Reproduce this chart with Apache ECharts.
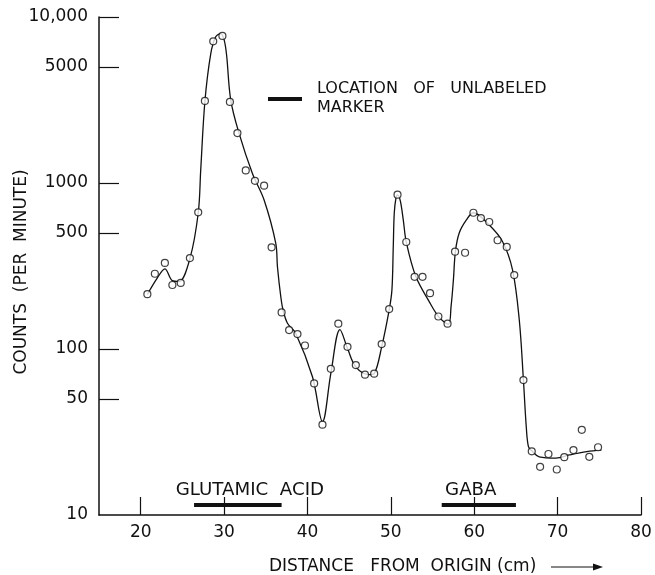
<!DOCTYPE html>
<html>
<head>
<meta charset="utf-8">
<script src="https://cdn.jsdelivr.net/npm/echarts@6/dist/echarts.min.js"></script>
<style>
  html, body { margin: 0; padding: 0; background: #fff; }
  #main { width: 655px; height: 575px; }
</style>
</head>
<body>
<div id="main"></div>
<script>
// measured points (distance cm, counts per minute)
var distance = [20.8, 21.7, 22.9, 23.8, 24.8, 25.9, 26.9, 27.7, 28.7, 29.8, 30.7, 31.6, 32.6, 33.7, 34.8,
     35.7, 36.9, 37.8, 38.8, 39.7, 40.8, 41.8, 42.8, 43.7, 44.8, 45.8, 46.9, 48.0, 48.9, 49.8,
     50.8, 51.85, 52.85, 53.8, 54.7, 55.7, 56.8, 57.7, 58.9, 59.9, 60.8, 61.8, 62.8, 63.9, 64.8,
     65.9, 66.9, 67.9, 68.9, 69.9, 70.8, 71.9, 72.9, 73.8, 74.85];
var counts = [214, 284, 330, 243, 250, 353, 666, 3120, 7140, 7690, 3080, 2000, 1190, 1030, 963,
     410, 166, 130, 123, 105, 62, 35, 76, 142, 103, 80, 70, 71, 107, 174,
     850, 441, 272, 272, 217, 157, 142, 386, 380, 662, 615, 582, 452, 412, 279,
     65, 24.2, 19.5, 23.3, 18.8, 22.3, 24.6, 32.6, 22.4, 25.6];

// hand drawn curve
var curveX = [20.8, 22.0, 22.9, 23.8, 24.6, 25.9, 26.9, 27.2, 27.7, 28.4, 29.0, 29.6, 30.0, 30.3, 30.8,
     31.8, 33.4, 34.8, 36.2, 36.4, 36.8, 37.07, 37.6, 38.6, 40.6, 41.8, 42.8, 43.9, 44.8, 45.8,
     47.4, 48.0, 48.9, 49.8, 50.13, 50.29, 50.41, 50.61, 50.8, 51.13, 51.49, 51.85, 53.0, 54.6, 55.8,
     56.9, 57.22, 57.5, 57.74, 58.2, 59.06, 59.9, 61.8, 63.4, 64.6, 65.4, 65.9, 66.24, 66.5, 66.9,
     67.8, 69.8, 71.4, 73.5, 75.25];
var curveY = [213, 268, 304, 258, 255, 350, 660, 1200, 3100, 6000, 7600, 7950, 7300, 5900, 3160,
     1990, 1140, 790, 433, 313, 207, 172, 143, 124, 68, 36.5, 71, 131, 101, 78,
     70, 71, 103, 172, 227, 413, 659, 812, 847, 782, 599, 441, 273, 193, 155,
     141, 180, 260, 386, 500, 599, 662, 558, 443, 299, 150, 65, 34, 25.8, 24.4,
     22.4, 22, 23, 24.1, 24.6];

var xTicks = [20, 30, 40, 50, 60, 70, 80];
var yTicks = [50, 100, 500, 1000, 5000, 10000];
var yLabels = [10, 50, 100, 500, 1000, 5000, 10000];

// marker bars under the axis
var markerNames = ['GLUTAMIC  ACID', 'GABA'];
var markerFrom = [26.4, 56.1];
var markerTo = [36.9, 65.0];
var markerLabelX = [24.2, 56.5];

var font = 'DejaVu Sans';
var chart = echarts.init(document.getElementById('main'));

var pts = [];
for (var i = 0; i < distance.length; i++) {
     pts.push([distance[i], counts[i]]);
}
var curve = [];
for (var j = 0; j < curveX.length; j++) {
     curve.push([curveX[j], curveY[j]]);
}
var bars = [];
for (var k = 0; k < markerNames.length; k++) {
     bars.push([markerFrom[k], markerTo[k], markerLabelX[k], markerNames[k]]);
}

chart.setOption({
     animation: false,
     grid: { left: 99, right: 14, top: 17, bottom: 60 },
     xAxis: {
          type: 'value',
          min: 15,
          max: 80,
          axisLine: { lineStyle: { color: '#111', width: 1.5 } },
          axisTick: { inside: true, length: 18, customValues: xTicks, lineStyle: { color: '#111', width: 1.2 } },
          axisLabel: { customValues: xTicks, margin: 9, fontFamily: font, fontSize: 17, color: '#111' },
          splitLine: { show: false }
     },
     yAxis: {
          type: 'log',
          logBase: 10,
          min: 10,
          max: 10000,
          axisLine: { lineStyle: { color: '#111', width: 1.5 } },
          axisTick: { inside: true, length: 20, customValues: yTicks, lineStyle: { color: '#111', width: 1.2 } },
          axisLabel: {
               customValues: yLabels,
               margin: 11,
               fontFamily: font,
               fontSize: 17,
               color: '#111',
               formatter: function (v) {
                    return v >= 10000 ? '10,000' : String(v);
               }
          },
          splitLine: { show: false }
     },
     graphic: [
          {
               type: 'text', x: 22, y: 272, rotation: Math.PI / 2,
               style: { text: 'COUNTS  (PER  MINUTE)', fontFamily: font, fontSize: 17, fill: '#111', align: 'center', verticalAlign: 'middle' }
          },
          {
               type: 'text', x: 269, y: 567,
               style: { text: 'DISTANCE   FROM  ORIGIN (cm)', fontFamily: font, fontSize: 17, fill: '#111', align: 'left', verticalAlign: 'middle' }
          },
          {
               type: 'line', shape: { x1: 551, y1: 567, x2: 596, y2: 567 },
               style: { stroke: '#111', lineWidth: 1.2 }
          },
          {
               type: 'polygon', shape: { points: [[603, 567], [593, 563.5], [593, 570.5]] },
               style: { fill: '#111' }
          },
          {
               type: 'line', shape: { x1: 268, y1: 99, x2: 302, y2: 99 },
               style: { stroke: '#111', lineWidth: 4 }
          },
          {
               type: 'text', x: 317, y: 89,
               style: { text: 'LOCATION   OF   UNLABELED', fontFamily: font, fontSize: 16, fill: '#111', align: 'left', verticalAlign: 'middle' }
          },
          {
               type: 'text', x: 317, y: 108,
               style: { text: 'MARKER', fontFamily: font, fontSize: 16, fill: '#111', align: 'left', verticalAlign: 'middle' }
          }
     ],
     series: [
          {
               type: 'line',
               data: curve,
               smooth: 0.35,
               showSymbol: false,
               lineStyle: { color: '#111', width: 1.3 },
               z: 2
          },
          {
               type: 'scatter',
               data: pts,
               symbol: 'circle',
               symbolSize: 7,
               itemStyle: { color: '#fff', borderColor: '#111', borderWidth: 1.2 },
               z: 3
          },
          {
               type: 'custom',
               data: bars,
               renderItem: function (params, api) {
                    var p0 = api.coord([api.value(0), 10]);
                    var p1 = api.coord([api.value(1), 10]);
                    var pl = api.coord([api.value(2), 10]);
                    return {
                         type: 'group',
                         children: [
                              {
                                   type: 'rect',
                                   shape: { x: p0[0], y: p0[1] - 12, width: p1[0] - p0[0], height: 4 },
                                   style: { fill: '#111' }
                              },
                              {
                                   type: 'text',
                                   x: pl[0], y: p0[1] - 24, scaleX: 1.07,
                                   style: { text: bars[params.dataIndex][3], fontFamily: font, fontSize: 17, fill: '#111', align: 'left', verticalAlign: 'middle' }
                              }
                         ]
                    };
               },
               z: 4
          }
     ]
});
</script>
</body>
</html>
